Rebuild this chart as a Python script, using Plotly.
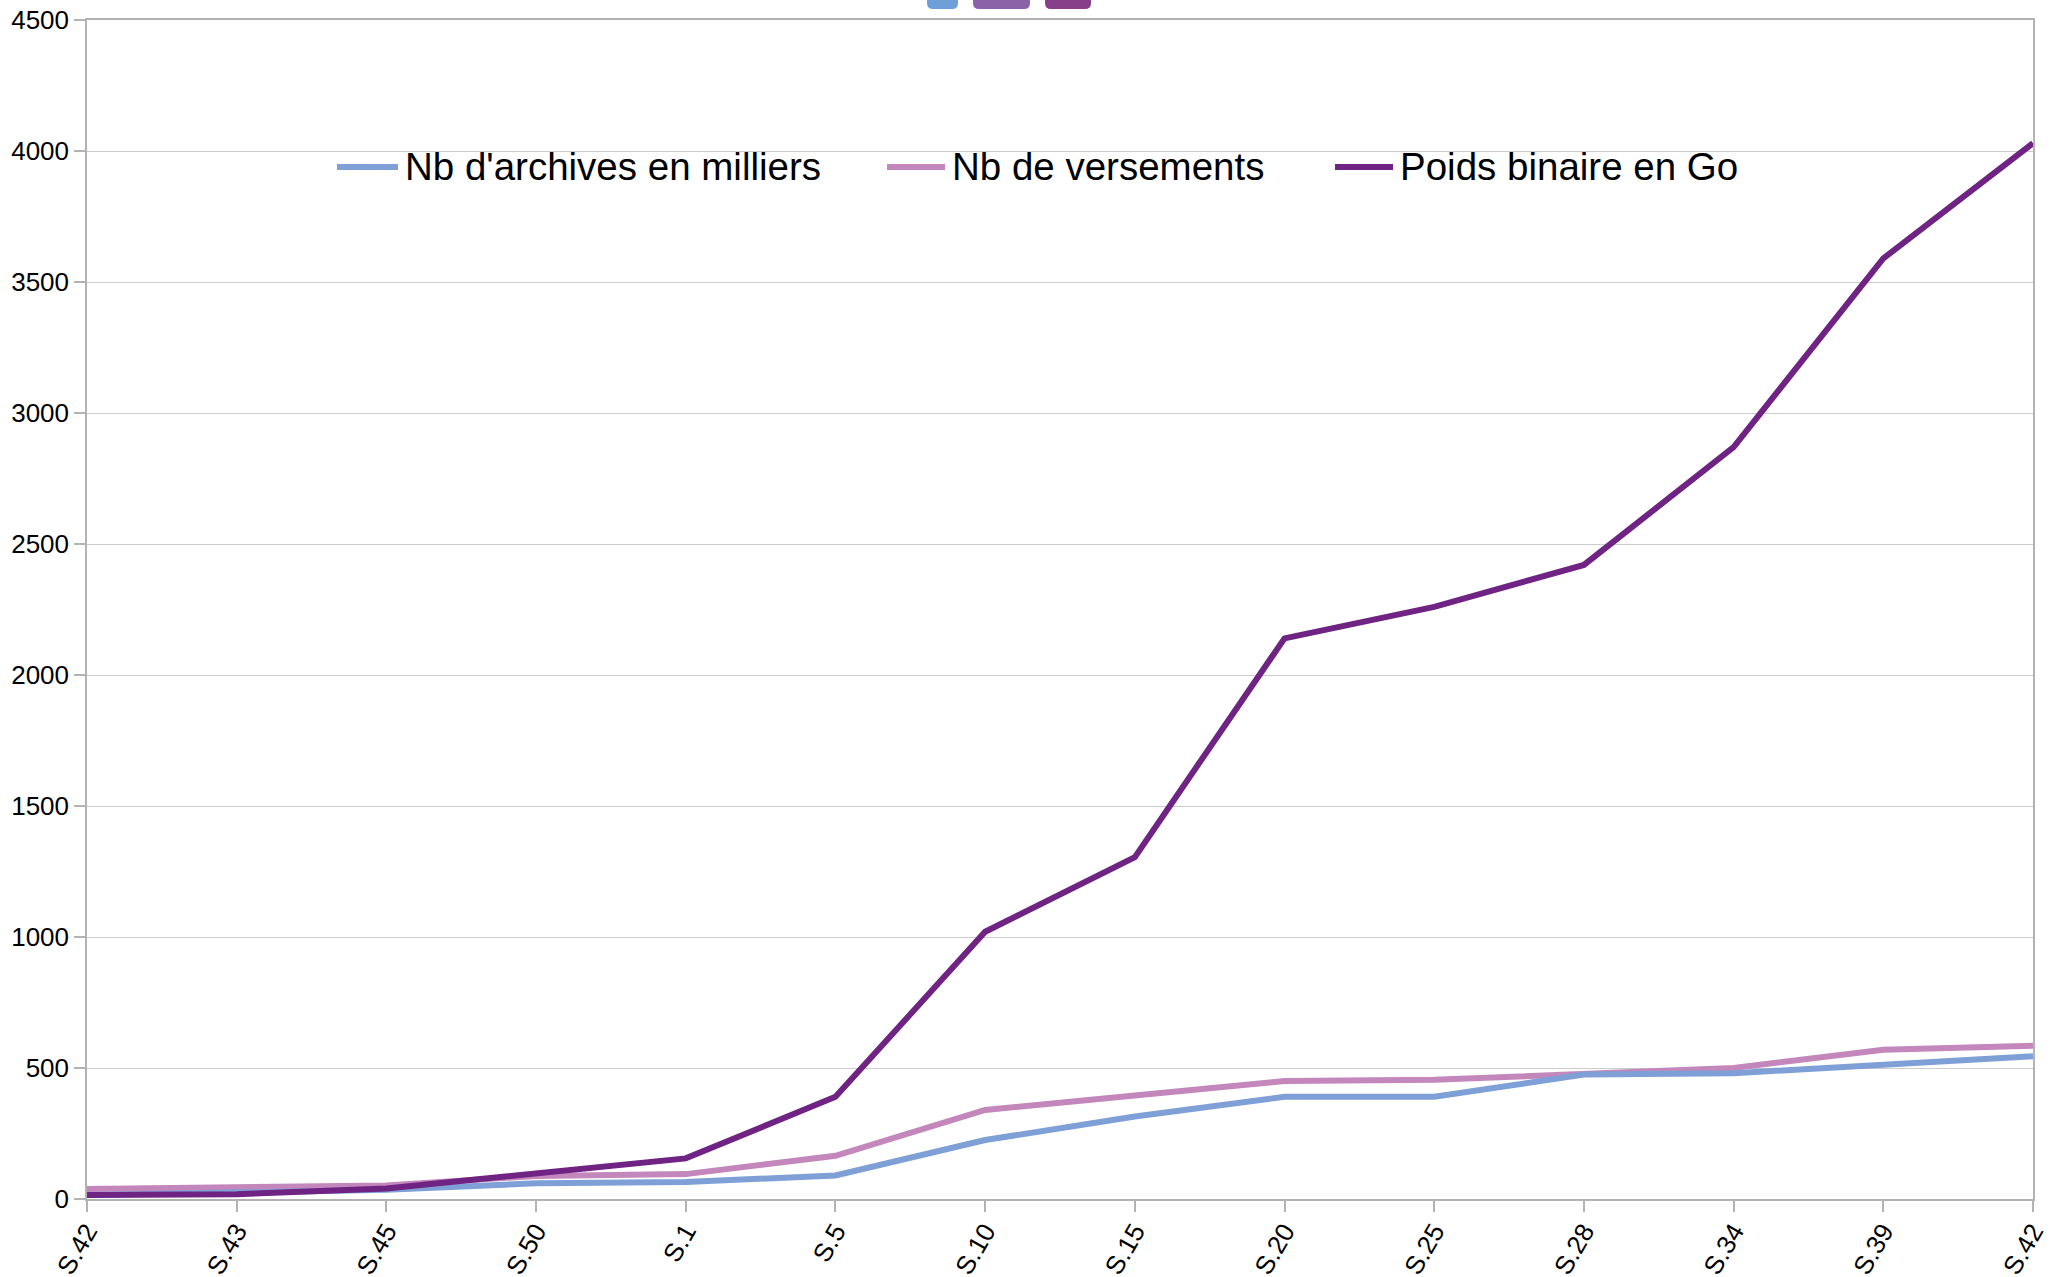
import plotly.graph_objects as go

# ---- data ----
categories = ["S.42", "S.43", "S.45", "S.50", "S.1", "S.5", "S.10", "S.15",
              "S.20", "S.25", "S.28", "S.34", "S.39", "S.42"]
archives = [15, 25, 35, 60, 65, 90, 225, 315, 390, 390, 475, 480, 510, 545]
versements = [38, 45, 52, 88, 95, 165, 340, 395, 450, 455, 475, 500, 570, 585]
poids = [15, 18, 40, 100, 155, 390, 1020, 1305, 2140, 2260, 2420, 2870, 3590, 4030]
series_names = ["Nb d'archives en milliers", "Nb de versements", "Poids binaire en Go"]
series_colors = ["#7ea0d6", "#c387bc", "#6f2383"]
y_ticks = [0, 500, 1000, 1500, 2000, 2500, 3000, 3500, 4000, 4500]

W, H = 2059, 1277
ML, MR, MT, MB = 87, 26, 20, 78
PW, PH = W - ML - MR, H - MT - MB

def px_x(p):
    return (p - ML) / PW

def px_y(p):
    return (H - MB - p) / PH

xs = list(range(len(categories)))
fig = go.Figure()
for name, vals, col in [(series_names[1], versements, series_colors[1]),
                        (series_names[0], archives, series_colors[0]),
                        (series_names[2], poids, series_colors[2])]:
    fig.add_trace(go.Scatter(x=xs, y=vals, mode="lines", name=name,
                             line=dict(color=col, width=6), showlegend=False))

shapes = []
annotations = []
# manual legend (line samples + text)
legend_items = [(337, 398, 403), (887, 945, 950), (1335, 1393, 1398)]
leg_y = 167
for (x0, x1, tx), name, col in zip(legend_items, series_names, series_colors):
    shapes.append(dict(type="line", xref="paper", yref="paper",
                       x0=px_x(x0), x1=px_x(x1), y0=px_y(leg_y), y1=px_y(leg_y),
                       line=dict(color=col, width=6)))
    annotations.append(dict(xref="paper", yref="paper", x=px_x(tx), y=px_y(leg_y),
                            xanchor="left", yanchor="middle", showarrow=False,
                            text=name, font=dict(size=38.5, color="#000000")))

# top coloured tabs
tabs = [(927, 958, "#6f9fd8"), (973, 1030, "#8b62a8"), (1045, 1091, "#873f89")]
r = 6
for x0, x1, col in tabs:
    y_top, y_bot = -2, 9
    path = (f"M {px_x(x0)},{px_y(y_top)} L {px_x(x1)},{px_y(y_top)} "
            f"L {px_x(x1)},{px_y(y_bot - r)} Q {px_x(x1)},{px_y(y_bot)} {px_x(x1 - r)},{px_y(y_bot)} "
            f"L {px_x(x0 + r)},{px_y(y_bot)} Q {px_x(x0)},{px_y(y_bot)} {px_x(x0)},{px_y(y_bot - r)} Z")
    shapes.append(dict(type="path", xref="paper", yref="paper", path=path,
                       fillcolor=col, line=dict(width=0), layer="above"))

fig.update_layout(
    width=W, height=H,
    margin=dict(l=ML, r=MR, t=MT, b=MB, pad=0, autoexpand=False),
    paper_bgcolor="#ffffff", plot_bgcolor="#ffffff",
    font=dict(family="Liberation Sans, Arial, sans-serif", color="#000000"),
    shapes=shapes, annotations=annotations,
    xaxis=dict(
        range=[0, len(categories) - 1], automargin=False,
        tickmode="array", tickvals=xs, ticktext=categories,
        tickangle=-60, tickfont=dict(size=26), ticklabelstandoff=-6,
        ticks="outside", ticklen=11, tickcolor="#b3b3b3", tickwidth=1.5,
        showgrid=False, zeroline=False,
        showline=True, linecolor="#b3b3b3", linewidth=1.5, mirror=True,
    ),
    yaxis=dict(
        range=[0, 4500], automargin=False,
        tickmode="array", tickvals=y_ticks,
        tickfont=dict(size=26),
        ticks="outside", ticklen=11, tickcolor="#b3b3b3", tickwidth=1.5,
        showgrid=True, gridcolor="#cccccc", gridwidth=1.3,
        zeroline=False,
        showline=True, linecolor="#b3b3b3", linewidth=1.5, mirror=True,
    ),
)

fig.write_html("out.html", config={"displayModeBar": False},
               post_script="document.body.style.margin='0';")
